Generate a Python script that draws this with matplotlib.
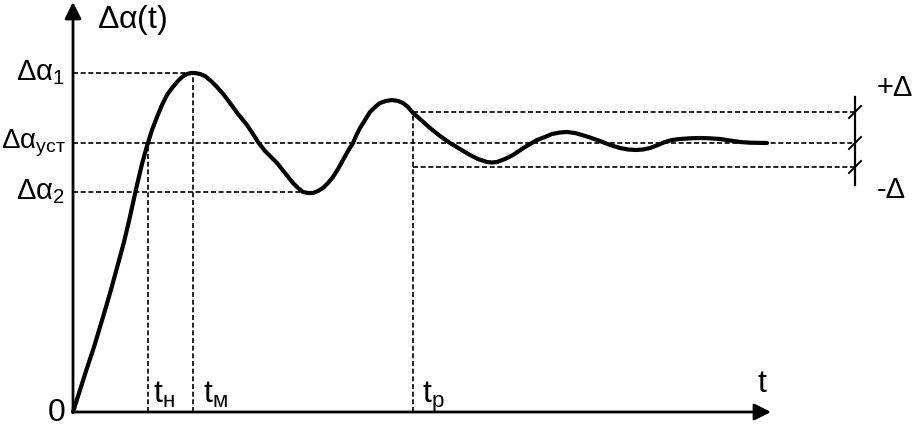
import matplotlib
matplotlib.use("Agg")
import matplotlib.pyplot as plt

plt.rcParams['font.family'] = ['Liberation Sans', 'DejaVu Sans']
plt.rcParams['mathtext.fontset'] = 'custom'
plt.rcParams['mathtext.rm'] = 'Liberation Sans'

# transient curve (t, delta alpha)
t_curve = [0, 7, 14, 21, 27, 33, 39, 45, 51, 56, 60, 64, 69, 74, 79, 84, 89, 94, 99, 104,
           109, 114, 118, 122,
           127, 132, 138, 144, 151, 157, 165, 174, 180, 185, 192, 198, 204, 212, 220, 225,
           230, 235, 240, 245, 250, 255, 260, 265, 270, 275, 280, 283, 287, 292, 297, 302,
           307, 313, 319, 325, 330, 335, 340, 347, 357, 367, 377, 387, 397, 405, 414, 419,
           424, 432, 440, 452, 464, 472, 479, 487, 494, 502, 509, 517, 527, 537, 547, 555,
           563, 570, 577, 585, 592, 599, 607, 617, 627, 637, 647, 657, 667, 677, 694]
a_curve = [0, 22, 44, 65, 85, 105, 126, 148, 170, 191, 209, 227, 248, 266, 282, 295, 307, 317, 324, 330,
           335, 338, 339, 339,
           338, 336, 331, 325, 317, 309, 298, 287, 278, 270, 261, 255, 249, 239, 229, 224,
           220, 219, 219, 221, 224, 229, 235, 243, 252, 261, 269, 276, 284, 292, 300, 305,
           309, 311, 312, 311, 309, 305, 299, 293, 284, 276, 269, 263, 257, 253, 250, 249.5,
           250, 253, 257, 265, 272, 275, 278, 279.5, 280, 279, 277, 274.5, 271, 267, 264, 262.5,
           262, 262.5, 264, 267, 270, 272, 273, 273.7, 274, 273.7, 273, 271.5, 270, 269.3, 269]

# levels and moments
a1 = 339
a_ust = 269
a2 = 220
a_plus = 300
a_minus = 245
t_n = 75
t_m = 120
t_p = 340
t_end = 698
a_top = 410
t_brk = 782

fig = plt.figure(figsize=(9.15, 4.28), dpi=100)
ax = fig.add_axes([0, 0, 1, 1])
ax.set_xlim(-73, 842)
ax.set_ylim(-16, 412)
ax.axis('off')

dash = dict(color='black', lw=1.2, ls=(0, (3, 1.6)))

# horizontal dashed levels
ax.plot([0, t_m], [a1, a1], **dash)
ax.plot([0, t_brk], [a_ust, a_ust], **dash)
ax.plot([0, 237], [a2, a2], **dash)
ax.plot([t_p, t_brk], [a_plus, a_plus], **dash)
ax.plot([t_p, t_brk], [a_minus, a_minus], **dash)
# vertical dashed
ax.plot([t_n, t_n], [0, a_ust], **dash)
ax.plot([t_m, t_m], [0, a1], **dash)
ax.plot([t_p, t_p], [0, a_plus], **dash)

# curve
ax.plot(t_curve, a_curve, color='black', lw=3, solid_capstyle='round', solid_joinstyle='round')

# axes with arrows
ax.annotate('', xy=(0, a_top), xytext=(0, 0),
            arrowprops=dict(arrowstyle='-|>', color='black', lw=2, mutation_scale=25,
                            shrinkA=0, shrinkB=0))
ax.annotate('', xy=(t_end, 0), xytext=(0, 0),
            arrowprops=dict(arrowstyle='-|>', color='black', lw=2, mutation_scale=25,
                            shrinkA=0, shrinkB=0))

# tolerance bracket
ax.plot([t_brk, t_brk], [227, 315], color='black', lw=1.6)
for lv in [a_plus, a_ust, a_minus]:
    ax.plot([t_brk - 6, t_brk + 6], [lv - 6, lv + 6], color='black', lw=1.4)

fs = 20
big = 23
ax.text(24, 392, r'$\mathregular{Δα(t)}$', fontsize=23, ha='left', va='center')
ax.text(-8, a1, r'$\mathregular{Δα_{1}}$', fontsize=21, ha='right', va='center')
ax.text(-7, a_ust, r'$\mathregular{Δα_{уст}}$', fontsize=fs, ha='right', va='center')
ax.text(-8, a2, r'$\mathregular{Δα_{2}}$', fontsize=21, ha='right', va='center')
ax.text(-16, -1, '0', fontsize=big, ha='center', va='center')
ax.text(t_n + 5, 9, r'$\mathregular{t_{н}}$', fontsize=big, ha='left', va='baseline')
ax.text(t_m + 10, 9, r'$\mathregular{t_{м}}$', fontsize=big, ha='left', va='baseline')
ax.text(t_p + 9, 9, r'$\mathregular{t_{р}}$', fontsize=big, ha='left', va='baseline')
ax.text(684, 20, 't', fontsize=big, ha='left', va='baseline')
ax.text(804, 324, '+Δ', fontsize=21, ha='left', va='center')
ax.text(804, 222, '-Δ', fontsize=21, ha='left', va='center')

fig.savefig('out.png', dpi=100)
